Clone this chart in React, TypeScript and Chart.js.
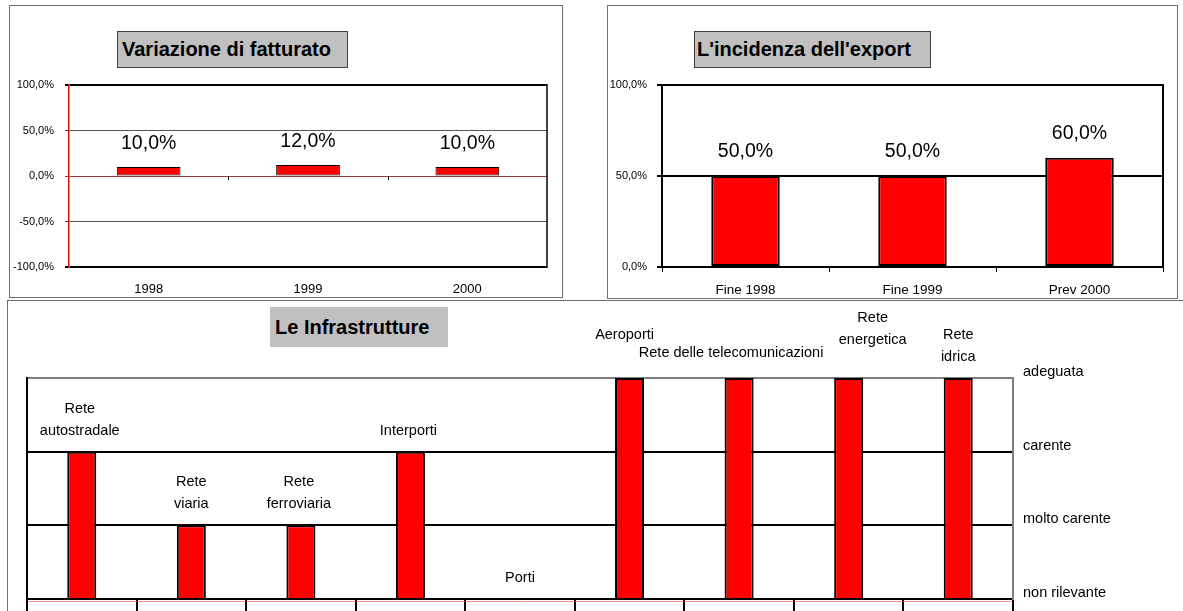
import { useEffect, useRef } from "react";
import { Chart, registerables } from "chart.js";

Chart.register(...registerables);

const FONT = '"Liberation Sans", Arial, Helvetica, sans-serif';
Chart.defaults.font.family = FONT;
Chart.defaults.color = "#000";

// Variazione di fatturato
const salesYears = ["1998", "1999", "2000"];
const salesChange = [10, 12, 10];
const salesTicks = [-100, -50, 0, 50, 100];

// L'incidenza dell'export
const exportPeriods = ["Fine 1998", "Fine 1999", "Prev 2000"];
const exportShare = [50, 50, 60];
const exportTicks = [0, 50, 100];

// Le Infrastrutture
const infraNames = [
  ["Rete", "autostradale"],
  ["Rete", "viaria"],
  ["Rete", "ferroviaria"],
  ["Interporti"],
  ["Porti"],
  ["Aeroporti"],
  ["Rete delle telecomunicazioni"],
  ["Rete", "energetica"],
  ["Rete", "idrica"],
];
const infraLevels = [2, 1, 1, 2, 0, 3, 3, 3, 3];
const levelNames = ["non rilevante", "molto carente", "carente", "adeguata"];

// hand nudges (dx, dy in px) for the crowded labels over the tall bars
const infraLabelShift = [
  [-2, 0], [0, 0], [-2, 0], [-2, 0], [0, 0],
  [-5, -22], [-8, -4], [24, -17], [0, 0],
];

const pct = (v: number) => `${v.toFixed(1).replace(".", ",")}%`;

const rightEdge = (color: string, width: number) => ({
  id: "rightEdge",
  beforeDatasetsDraw(chart: any) {
    const { ctx, chartArea: a } = chart;
    ctx.save();
    ctx.strokeStyle = color;
    ctx.lineWidth = width;
    ctx.beginPath();
    ctx.moveTo(a.right, a.top - 1);
    ctx.lineTo(a.right, a.bottom + 1);
    ctx.stroke();
    ctx.restore();
  },
});

const valueLabels = (gap: number) => ({
  id: "valueLabels",
  afterDatasetsDraw(chart: any) {
    const { ctx } = chart;
    const meta = chart.getDatasetMeta(0);
    const values = chart.data.datasets[0].data as number[];
    ctx.save();
    ctx.font = `19.5px ${FONT}`;
    ctx.fillStyle = "#000";
    ctx.textAlign = "center";
    ctx.textBaseline = "middle";
    meta.data.forEach((bar: any, i: number) => {
      ctx.fillText(pct(values[i]), bar.x, bar.y - gap);
    });
    ctx.restore();
  },
});

// small category separators hanging from the zero line
const zeroLineTicks = {
  id: "zeroLineTicks",
  afterDatasetsDraw(chart: any) {
    const { ctx } = chart;
    const x = chart.scales.x;
    const y0 = chart.scales.y.getPixelForValue(0);
    ctx.save();
    ctx.strokeStyle = "#000";
    ctx.lineWidth = 1;
    for (let i = 1; i < x.ticks.length; i++) {
      const px = Math.round((x.getPixelForTick(i - 1) + x.getPixelForTick(i)) / 2) + 0.5;
      ctx.beginPath();
      ctx.moveTo(px, y0);
      ctx.lineTo(px, y0 + 4);
      ctx.stroke();
    }
    ctx.restore();
  },
};

const infraFrame = {
  id: "infraFrame",
  afterDraw(chart: any) {
    const { ctx, chartArea: a } = chart;
    ctx.save();
    ctx.strokeStyle = "#000";
    ctx.lineWidth = 2;
    ctx.beginPath();
    ctx.moveTo(a.left, a.top - 1);
    ctx.lineTo(a.left, chart.height);
    ctx.stroke();
    ctx.strokeStyle = "rgba(255,80,80,0.6)";
    ctx.lineWidth = 1;
    ctx.beginPath();
    ctx.moveTo(a.left + 1, a.bottom + 2.5);
    ctx.lineTo(a.right, a.bottom + 2.5);
    ctx.stroke();
    ctx.restore();
  },
};

const infraLabels = {
  id: "infraLabels",
  afterDatasetsDraw(chart: any) {
    const { ctx } = chart;
    const meta = chart.getDatasetMeta(0);
    ctx.save();
    ctx.font = `14.5px ${FONT}`;
    ctx.fillStyle = "#000";
    ctx.textAlign = "center";
    ctx.textBaseline = "middle";
    meta.data.forEach((bar: any, i: number) => {
      const lines = infraNames[i];
      const [dx, dy] = infraLabelShift[i];
      const last = bar.y - 21 + dy;
      lines.forEach((line, j) => {
        ctx.fillText(line, bar.x + dx, last - (lines.length - 1 - j) * 22);
      });
    });
    ctx.restore();
  },
};

function salesConfig(): any {
  return {
    type: "bar",
    data: {
      labels: salesYears,
      datasets: [
        {
          data: salesChange,
          backgroundColor: "#ff0000",
          borderColor: "#000",
          borderWidth: 1,
          borderSkipped: false,
          barPercentage: 0.4,
          categoryPercentage: 1,
        },
      ],
    },
    options: {
      animation: false,
      responsive: false,
      maintainAspectRatio: false,
      layout: { autoPadding: false, padding: { left: 0, top: 79, right: 15, bottom: 0 } },
      plugins: { legend: { display: false }, tooltip: { enabled: false } },
      scales: {
        x: {
          grid: { display: false, drawTicks: false },
          border: { display: false },
          ticks: { font: { size: 13 }, color: "#000", padding: 15 },
          afterFit: (s: any) => {
            s.height = 30;
          },
        },
        y: {
          min: -100,
          max: 100,
          afterBuildTicks: (s: any) => {
            s.ticks = salesTicks.map((value) => ({ value }));
          },
          ticks: { callback: (v: any) => pct(Number(v)), font: { size: 11 }, color: "#000", padding: 11 },
          grid: {
            color: (c: any) =>
              c.tick && c.tick.value === 0 ? "#a03a3a" : Math.abs(c.tick ? c.tick.value : 0) === 50 ? "#555" : "#000",
            lineWidth: (c: any) => (c.tick && Math.abs(c.tick.value) === 100 ? 2 : 1),
            tickLength: 4,
          },
          border: { color: "#d01010", width: 1.5 },
          afterFit: (s: any) => {
            s.width = 59;
          },
        },
      },
    },
    plugins: [rightEdge("#000", 1.5), zeroLineTicks, valueLabels(23)],
  };
}

function exportConfig(): any {
  return {
    type: "bar",
    data: {
      labels: exportPeriods,
      datasets: [
        {
          data: exportShare,
          backgroundColor: "#ff0000",
          borderColor: "#000",
          borderWidth: 2,
          borderSkipped: false,
          barPercentage: 0.41,
          categoryPercentage: 1,
        },
      ],
    },
    options: {
      animation: false,
      responsive: false,
      maintainAspectRatio: false,
      layout: { autoPadding: false, padding: { left: 0, top: 79, right: 13, bottom: 0 } },
      plugins: { legend: { display: false }, tooltip: { enabled: false } },
      scales: {
        x: {
          grid: { display: true, drawOnChartArea: false, drawTicks: true, tickLength: 5, color: "#000", lineWidth: 1, offset: true },
          border: { color: "#000", width: 2 },
          ticks: { font: { size: 13.5 }, color: "#000", padding: 10 },
          afterFit: (s: any) => {
            s.height = 31;
          },
        },
        y: {
          min: 0,
          max: 100,
          afterBuildTicks: (s: any) => {
            s.ticks = exportTicks.map((value) => ({ value }));
          },
          ticks: { callback: (v: any) => pct(Number(v)), font: { size: 11 }, color: "#000", padding: 10 },
          grid: { color: "#000", lineWidth: 2, tickLength: 5 },
          border: { color: "#000", width: 2 },
          afterFit: (s: any) => {
            s.width = 54;
          },
        },
      },
    },
    plugins: [rightEdge("#000", 2), valueLabels(24)],
  };
}

function infraConfig(): any {
  return {
    type: "bar",
    data: {
      labels: infraNames.map((l) => l.join(" ")),
      datasets: [
        {
          data: infraLevels,
          backgroundColor: "#ff0000",
          borderColor: "#000",
          borderWidth: 2,
          borderSkipped: "start",
          barPercentage: 0.265,
          categoryPercentage: 1,
        },
      ],
    },
    options: {
      animation: false,
      responsive: false,
      maintainAspectRatio: false,
      layout: { autoPadding: false, padding: { left: 19, top: 77, right: 0, bottom: 0 } },
      plugins: { legend: { display: false }, tooltip: { enabled: false } },
      scales: {
        x: {
          ticks: { display: false },
          grid: { display: true, drawOnChartArea: false, drawTicks: true, tickLength: 12, color: "#000", lineWidth: 2, offset: true },
          border: { color: "#000", width: 2 },
          afterFit: (s: any) => {
            s.height = 12;
          },
        },
        y: {
          position: "right",
          min: 0,
          max: 3,
          ticks: {
            stepSize: 1,
            callback: (v: any) => levelNames[Number(v)] ?? "",
            font: { size: 14.5 },
            color: "#000",
            padding: 10,
            labelOffset: -6,
          },
          grid: {
            color: (c: any) => (c.tick && c.tick.value === 3 ? "#808080" : "#000"),
            lineWidth: 2,
            drawTicks: false,
          },
          border: { color: "#808080", width: 2 },
          afterFit: (s: any) => {
            s.width = 170;
            s.paddingTop = 0;
            s.paddingBottom = 0;
          },
        },
      },
    },
    plugins: [infraFrame, infraLabels],
  };
}

function ChartCanvas({ make, left, top, width, height }: { make: () => any; left: number; top: number; width: number; height: number }) {
  const ref = useRef<HTMLCanvasElement | null>(null);
  useEffect(() => {
    if (!ref.current) return;
    const chart = new Chart(ref.current, make());
    return () => chart.destroy();
  }, [make]);
  return (
    <canvas
      ref={ref}
      width={width}
      height={height}
      style={{ position: "absolute", left, top, width, height, display: "block" }}
    />
  );
}

const panel = (left: number, top: number, width: number, height: number): any => ({
  position: "absolute",
  left,
  top,
  width,
  height,
  boxSizing: "border-box",
  border: "1px solid #6e6e6e",
  background: "#fff",
});

const titleBox = (left: number, top: number, width: number, height: number, padLeft: number, bordered: boolean): any => ({
  position: "absolute",
  left,
  top,
  width,
  height,
  boxSizing: "border-box",
  border: bordered ? "1px solid #404040" : "none",
  background: "#c0c0c0",
  font: `bold 20px ${FONT}`,
  lineHeight: `${height - (bordered ? 2 : 0)}px`,
  paddingLeft: padLeft,
  whiteSpace: "nowrap",
  color: "#000",
});

export default function App() {
  return (
    <div
      style={{
        position: "absolute",
        left: 0,
        top: 0,
        width: 1183,
        height: 611,
        overflow: "hidden",
        background: "#fff",
        fontFamily: FONT,
      }}
    >
      <div style={panel(9, 5, 554, 293)} />
      <div style={panel(607, 5, 571, 294)} />
      <div style={panel(7, 300, 1300, 400)} />

      <ChartCanvas make={salesConfig} left={10} top={6} width={552} height={291} />
      <ChartCanvas make={exportConfig} left={608} top={6} width={568} height={292} />
      <ChartCanvas make={infraConfig} left={8} top={301} width={1175} height={310} />

      <div style={titleBox(117, 31, 231, 37, 4, true)}>Variazione di fatturato</div>
      <div style={titleBox(694, 31, 237, 37, 2, true)}>L'incidenza dell'export</div>
      <div style={titleBox(270, 307, 178, 40, 5, false)}>Le Infrastrutture</div>
    </div>
  );
}
